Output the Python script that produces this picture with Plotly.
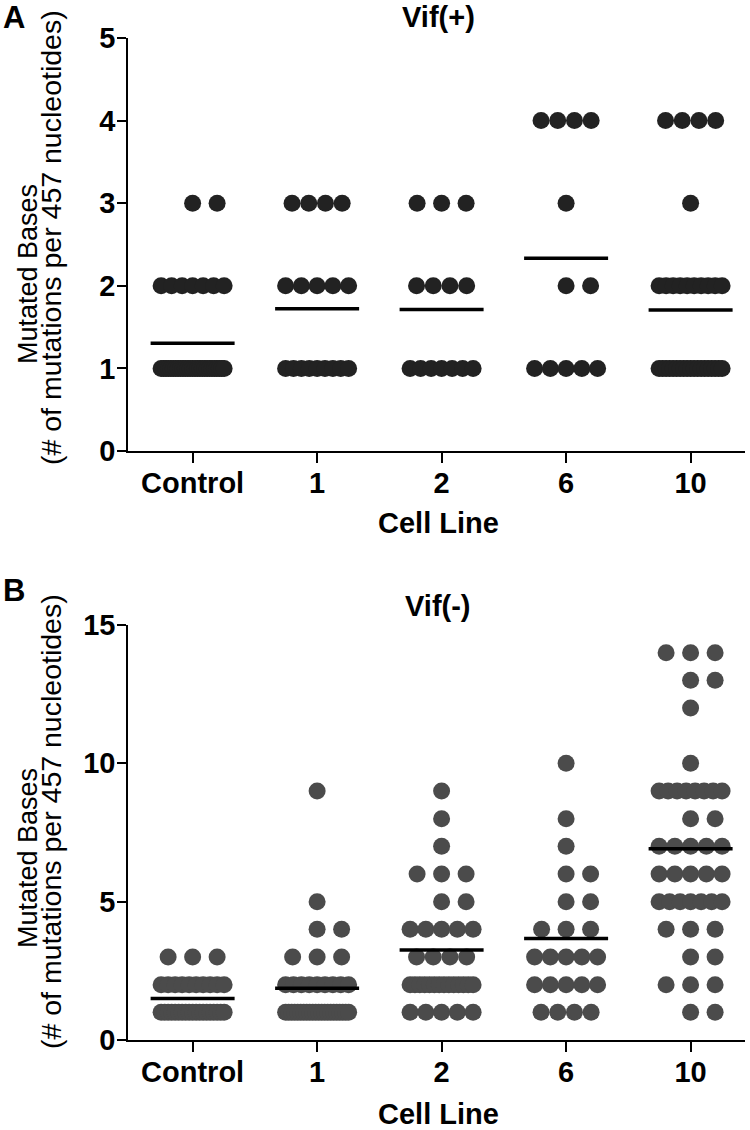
import numpy as np
import plotly.graph_objects as go

# ---------------- data ----------------
categories = ["Control", "1", "2", "6", "10"]

# Panel A, Vif(+): number of clones at each mutation count
levels_A = [1, 2, 3, 4]
vifpos_control = [27, 7, 2, 0]
vifpos_1 = [9, 5, 4, 0]
vifpos_2 = [7, 4, 3, 0]
vifpos_6 = [5, 2, 1, 4]
vifpos_10 = [19, 10, 1, 4]

# Panel B, Vif(-)
levels_B = [1, 2, 3, 4, 5, 6, 7, 8, 9, 10, 11, 12, 13, 14]
vifneg_control = [19, 10, 3, 0, 0, 0, 0, 0, 0, 0, 0, 0, 0, 0]
vifneg_1 = [22, 9, 3, 2, 1, 0, 0, 0, 1, 0, 0, 0, 0, 0]
vifneg_2 = [5, 14, 4, 5, 2, 3, 1, 1, 1, 0, 0, 0, 0, 0]
vifneg_6 = [4, 5, 5, 3, 2, 2, 1, 1, 0, 1, 0, 0, 0, 0]
vifneg_10 = [2, 3, 2, 3, 7, 5, 5, 2, 8, 1, 0, 1, 2, 3]

y_ticks_A = [0, 1, 2, 3, 4, 5]
y_ticks_B = [0, 5, 10, 15]

# ---------------- layout geometry ----------------
W, H = 750, 1130
ML, MR, MT, MB = 128, 5, 38, 90
PW = W - ML - MR
PH = H - MT - MB
XR = [-0.519, 4.437]
PX_PER_CAT = PW / (XR[1] - XR[0])


def yp(py):
    return (H - MB - py) / PH


def xp(px):
    return (px - ML) / PW


def row_offsets(n):
    d = 24.5
    if n == 1:
        o = [0.0]
    elif n == 2:
        o = [0.0, d]
    elif n == 3:
        o = [-d, 0.0, d]
    else:
        span = min(63.0, 16.7 * (n - 1))
        o = list(np.linspace(-span / 2, span / 2, n))
    return [v / PX_PER_CAT for v in o]


def swarm(levels, groups):
    xs, ys, means = [], [], []
    for gi, counts in enumerate(groups):
        tot, num = 0, 0
        for lv, c in zip(levels, counts):
            if c == 0:
                continue
            for off in row_offsets(c):
                xs.append(gi + off)
                ys.append(lv)
            tot += lv * c
            num += c
        means.append(tot / num)
    return xs, ys, means


groups_A = [vifpos_control, vifpos_1, vifpos_2, vifpos_6, vifpos_10]
groups_B = [vifneg_control, vifneg_1, vifneg_2, vifneg_6, vifneg_10]

xa, ya, ma = swarm(levels_A, groups_A)
xb, yb, mb = swarm(levels_B, groups_B)

HALF = 42 / PX_PER_CAT


def mean_lines(means):
    lx, ly = [], []
    for i, m in enumerate(means):
        lx += [i - HALF, i + HALF, None]
        ly += [m, m, None]
    return lx, ly


fig = go.Figure()
fig.add_trace(go.Scatter(x=xa, y=ya, mode="markers", xaxis="x", yaxis="y",
                         marker=dict(size=17, color="#222222", line=dict(width=0)),
                         showlegend=False, hoverinfo="skip"))
lx, ly = mean_lines(ma)
fig.add_trace(go.Scatter(x=lx, y=ly, mode="lines", xaxis="x", yaxis="y",
                         line=dict(color="black", width=3.5), showlegend=False))
fig.add_trace(go.Scatter(x=xb, y=yb, mode="markers", xaxis="x2", yaxis="y2",
                         marker=dict(size=17, color="#4b4b4b", line=dict(width=0)),
                         showlegend=False, hoverinfo="skip"))
lx, ly = mean_lines(mb)
fig.add_trace(go.Scatter(x=lx, y=ly, mode="lines", xaxis="x2", yaxis="y2",
                         line=dict(color="black", width=3.5), showlegend=False))

FONT = "Liberation Sans, Arial, sans-serif"
tickfont = dict(family=FONT, size=29, color="black", weight="bold")

xcommon = dict(range=XR, tickmode="array", tickvals=list(range(len(categories))),
               ticktext=categories, showline=True, linecolor="black", linewidth=1.5,
               ticks="outside", ticklen=10, tickwidth=1.5, tickcolor="black",
               ticklabelstandoff=-5,
               showgrid=False, zeroline=False, tickfont=tickfont, domain=[0, 1])
ycommon = dict(showline=True, linecolor="black", linewidth=1.5, ticks="outside",
               ticklen=9, tickwidth=1.5, tickcolor="black", showgrid=False,
               ticklabelstandoff=-4,
               zeroline=False, tickfont=tickfont, tickmode="array")

fig.update_layout(
    width=W, height=H,
    margin=dict(l=ML, r=MR, t=MT, b=MB),
    paper_bgcolor="white", plot_bgcolor="white",
    xaxis=dict(anchor="y", **xcommon),
    xaxis2=dict(anchor="y2", **xcommon),
    yaxis=dict(domain=[yp(451), 1.0], range=[0, 5], tickvals=y_ticks_A, anchor="x", **ycommon),
    yaxis2=dict(domain=[0, yp(625)], range=[0, 15], tickvals=y_ticks_B, anchor="x2", **ycommon),
)

ann = []


def add_text(text, px, py, size, bold=True, angle=0):
    ann.append(dict(text=text, x=xp(px), y=yp(py), xref="paper", yref="paper",
                    xanchor="center", yanchor="middle", showarrow=False, textangle=angle,
                    font=dict(family=FONT, size=size, color="black",
                              weight="bold" if bold else "normal")))


add_text("A", 14, 17, 31)
add_text("B", 14, 590, 31)
add_text("Vif(+)", 438, 17, 29)
add_text("Vif(-)", 438, 606, 29)
add_text("Cell Line", 438, 523, 29)
add_text("Cell Line", 438, 1114, 29)
add_text("Mutated Bases", 28, 274, 27, bold=False, angle=-90)
add_text("(# of mutations per 457 nucleotides)", 51, 238, 28.5, bold=False, angle=-90)
add_text("Mutated Bases", 28, 858, 27, bold=False, angle=-90)
add_text("(# of mutations per 457 nucleotides)", 51, 822, 28.5, bold=False, angle=-90)
fig.update_layout(annotations=ann)

# remove the default page margin so the figure sits at the window's corner
fig.write_html("out.html", config={"displayModeBar": False},
               post_script="document.body.style.margin='0';")
